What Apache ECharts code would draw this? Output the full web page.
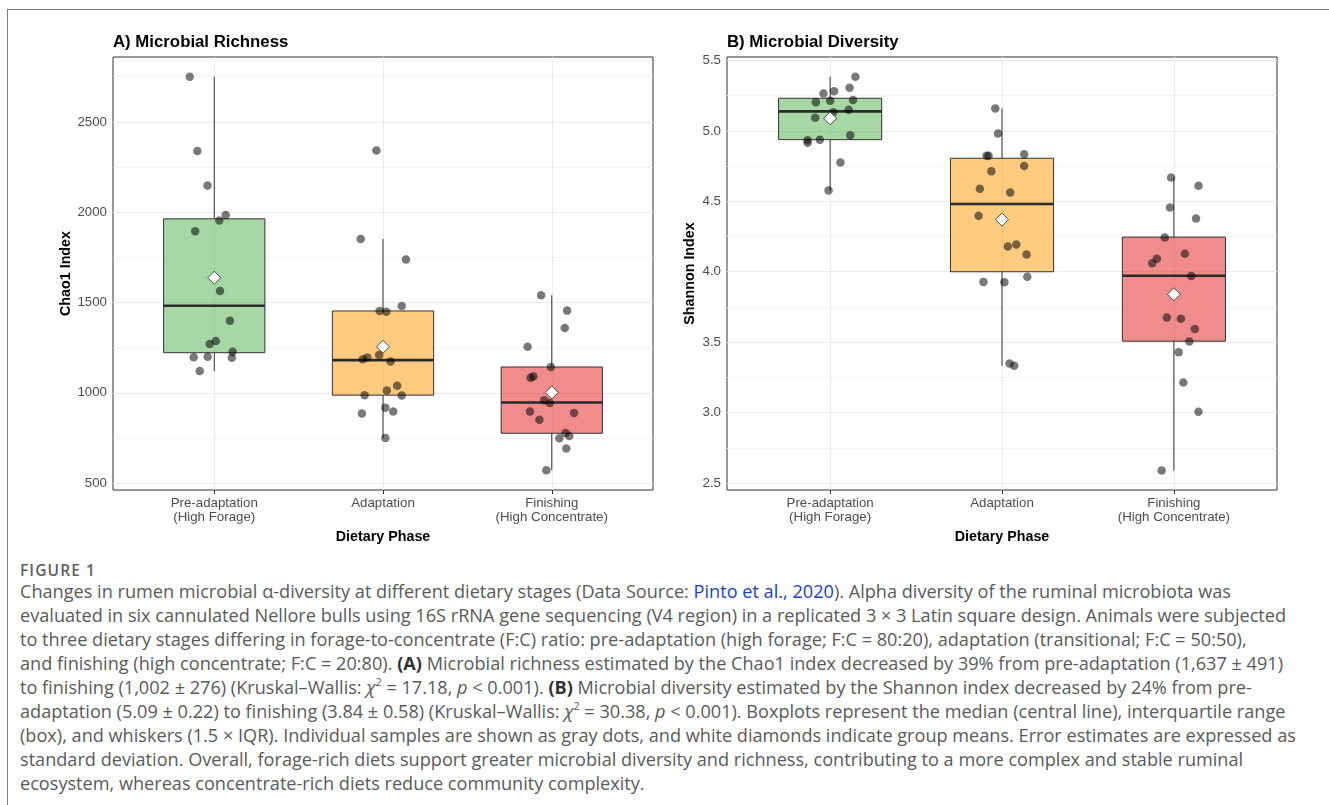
<!DOCTYPE html>
<html>
<head>
<meta charset="utf-8">
<script src="https://cdn.jsdelivr.net/npm/echarts@6/dist/echarts.min.js"></script>
<style>
html,body{margin:0;padding:0;background:#fff;width:1329px;height:805px;overflow:hidden;}
#frame{position:absolute;left:7px;top:9px;width:1330px;height:800px;border-top:1px solid #7d7d7d;border-left:1px solid #7d7d7d;}
#chart{position:absolute;left:0;top:0;width:1329px;height:552px;}
#caption{position:absolute;left:0;top:0;width:1329px;font-family:"Open Sans",sans-serif;color:#5a5a5a;font-size:16px;}
.fig{position:absolute;left:20px;top:561px;font-size:15.5px;font-weight:600;color:#606060;line-height:18px;letter-spacing:1.1px;}
.ln{position:absolute;left:20px;white-space:nowrap;line-height:24px;height:24px;}
.ln a{color:#1f3fbf;text-decoration:none;}
.ln b{color:#333;font-weight:700;}
sup{font-size:0.6em;line-height:0;vertical-align:0.7em;}
</style>
</head>
<body>
<div id="frame"></div>
<div id="chart"></div>
<div id="caption">
<div class="fig">FIGURE 1</div>
<div class="ln" style="top:579px">Changes in rumen microbial α-diversity at different dietary stages (Data Source: <a>Pinto et al., 2020</a>). Alpha diversity of the ruminal microbiota was</div>
<div class="ln" id="refline" style="top:603px">evaluated in six cannulated Nellore bulls using 16S rRNA gene sequencing (V4 region) in a replicated 3 × 3 Latin square design. Animals were subjected</div>
<div class="ln" style="top:627px">to three dietary stages differing in forage-to-concentrate (F:C) ratio: pre-adaptation (high forage; F:C = 80:20), adaptation (transitional; F:C = 50:50),</div>
<div class="ln" style="top:651px">and finishing (high concentrate; F:C = 20:80). <b>(A)</b> Microbial richness estimated by the Chao1 index decreased by 39% from pre-adaptation (1,637 ± 491)</div>
<div class="ln" style="top:675px">to finishing (1,002 ± 276) (Kruskal–Wallis: <i>χ</i><sup>2</sup> = 17.18, <i>p</i> &lt; 0.001). <b>(B)</b> Microbial diversity estimated by the Shannon index decreased by 24% from pre-</div>
<div class="ln" style="top:699px">adaptation (5.09 ± 0.22) to finishing (3.84 ± 0.58) (Kruskal–Wallis: <i>χ</i><sup>2</sup> = 30.38, <i>p</i> &lt; 0.001). Boxplots represent the median (central line), interquartile range</div>
<div class="ln" style="top:723px">(box), and whiskers (1.5 × IQR). Individual samples are shown as gray dots, and white diamonds indicate group means. Error estimates are expressed as</div>
<div class="ln" style="top:747px">standard deviation. Overall, forage-rich diets support greater microbial diversity and richness, contributing to a more complex and stable ruminal</div>
<div class="ln" style="top:771px">ecosystem, whereas concentrate-rich diets reduce community complexity.</div>
</div>
<script>
// ---------------- DATA ----------------
const categories = ['Pre-adaptation\n(High Forage)', 'Adaptation', 'Finishing\n(High Concentrate)'];

const richnessTicks = [500, 1000, 1500, 2000, 2500];
const richnessMinorTicks = [750, 1250, 1750, 2250, 2750];
const diversityTicks = [2.5, 3.0, 3.5, 4.0, 4.5, 5.0, 5.5];
const diversityMinorTicks = [2.75, 3.25, 3.75, 4.25, 4.75, 5.25];

// [lower whisker, Q1, median, Q3, upper whisker]
const richnessBoxPre = [1121, 1222, 1482, 1963, 2750];
const richnessBoxAdapt = [750, 987, 1181, 1453, 1851];
const richnessBoxFinish = [571, 776, 946, 1143, 1540];
const richnessMeans = [1637, 1255, 1002];

const diversityBoxPre = [4.577, 4.938, 5.139, 5.232, 5.385];
const diversityBoxAdapt = [3.333, 4.000, 4.481, 4.806, 5.160];
const diversityBoxFinish = [2.589, 3.507, 3.971, 4.246, 4.670];
const diversityMeans = [5.09, 4.37, 3.84];

// individual samples (values) and horizontal jitter (fraction of category step)
const richnessPre = [2750, 2338, 2148, 1984, 1954, 1894, 1564, 1399, 1287, 1270, 1227, 1197, 1199, 1194, 1121];
const richnessPreJitter = [-0.145, -0.10, -0.04, 0.068, 0.03, -0.113, 0.034, 0.093, 0.009, -0.027, 0.109, -0.122, -0.039, 0.104, -0.086];
const richnessAdapt = [2342, 1851, 1738, 1481, 1453, 1449, 1210, 1195, 1186, 1173, 1039, 1013, 987, 985, 918, 897, 886, 750];
const richnessAdaptJitter = [-0.039, -0.132, 0.136, 0.111, -0.02, 0.02, -0.023, -0.093, -0.12, 0.045, 0.084, 0.023, -0.109, 0.111, 0.014, 0.061, -0.125, 0.014];
const richnessFinish = [1540, 1455, 1359, 1255, 1143, 1091, 1084, 959, 944, 897, 888, 851, 778, 761, 748, 692, 571];
const richnessFinishJitter = [-0.063, 0.091, 0.077, -0.143, -0.005, -0.109, -0.125, -0.045, -0.011, -0.129, 0.132, -0.073, 0.082, 0.104, 0.045, 0.086, -0.032];

const diversityPre = [5.385, 5.306, 5.266, 5.282, 5.203, 5.215, 5.220, 5.132, 5.151, 5.093, 4.969, 4.938, 4.933, 4.916, 4.775, 4.577];
const diversityPreJitter = [0.147, 0.113, -0.039, 0.023, -0.083, 0, 0.133, 0.018, 0.108, -0.087, 0.117, -0.06, -0.131, -0.131, 0.06, -0.009];
const diversityAdapt = [5.160, 4.981, 4.823, 4.823, 4.835, 4.713, 4.751, 4.589, 4.562, 4.397, 4.179, 4.194, 4.122, 3.928, 3.926, 3.964, 3.349, 3.333];
const diversityAdaptJitter = [-0.039, -0.023, -0.09, -0.078, 0.129, -0.062, 0.129, -0.129, 0.048, -0.136, 0.034, 0.083, 0.143, -0.108, 0.014, 0.147, 0.044, 0.071];
const diversityFinish = [4.670, 4.610, 4.457, 4.378, 4.244, 4.127, 4.093, 4.060, 3.969, 3.675, 3.667, 3.593, 3.505, 3.428, 3.213, 3.005, 2.589];
const diversityFinishJitter = [-0.016, 0.143, -0.023, 0.129, -0.053, 0.064, -0.099, -0.126, 0.101, -0.041, 0.041, 0.122, 0.09, 0.028, 0.055, 0.143, -0.071];

// ---------------- STYLE ----------------
const boxColors = ['rgba(77,175,74,0.5)', 'rgba(255,153,0,0.5)', 'rgba(228,26,28,0.5)'];
const FONT = '"Liberation Sans", Arial, sans-serif';
const BOX_WIDTH = 0.6;

function buildPoints(groups, jitters) {
  const out = [];
  groups.forEach((vals, gi) => vals.forEach((v, i) => out.push([gi + jitters[gi][i], v])));
  return out;
}

function gridLineSeries(xi, majorY, minorY) {
  const major = { color: '#ebebeb', width: 1.1, type: 'solid' };
  const minor = { color: '#f3f3f3', width: 0.8, type: 'solid' };
  return {
    type: 'scatter', xAxisIndex: xi, yAxisIndex: xi, data: [], silent: true, z: 1,
    markLine: {
      silent: true, z: 1, symbol: ['none', 'none'], label: { show: false }, animation: false,
      emphasis: { disabled: true },
      data: [].concat(
        minorY.map(v => ({ yAxis: v, lineStyle: minor })),
        majorY.map(v => ({ yAxis: v, lineStyle: major })),
        [0, 1, 2].map(v => ({ xAxis: v, lineStyle: major }))
      )
    }
  };
}

function boxSeries(xi, boxes) {
  return {
    type: 'custom', xAxisIndex: xi, yAxisIndex: xi, z: 2, silent: true,
    data: boxes.map((b, i) => [i].concat(b)),
    encode: { x: 0, y: [1, 2, 3, 4, 5] },
    renderItem: function (params, api) {
      const x = api.value(0);
      const half = api.size([BOX_WIDTH, 0])[0] / 2;
      const lo = api.coord([x, api.value(1)]);
      const q1 = api.coord([x, api.value(2)]);
      const md = api.coord([x, api.value(3)]);
      const q3 = api.coord([x, api.value(4)]);
      const hi = api.coord([x, api.value(5)]);
      const cx = q1[0];
      const lineSt = { stroke: '#333', lineWidth: 1 };
      return {
        type: 'group',
        children: [
          { type: 'line', shape: { x1: cx, y1: hi[1], x2: cx, y2: q3[1] }, style: lineSt },
          { type: 'line', shape: { x1: cx, y1: q1[1], x2: cx, y2: lo[1] }, style: lineSt },
          { type: 'rect', shape: { x: cx - half, y: q3[1], width: 2 * half, height: q1[1] - q3[1] },
            style: { fill: boxColors[params.dataIndex], stroke: '#333', lineWidth: 1 } },
          { type: 'line', shape: { x1: cx - half, y1: md[1], x2: cx + half, y2: md[1] },
            style: { stroke: '#2b2b2b', lineWidth: 2.6 } }
        ]
      };
    }
  };
}

function pointSeries(xi, pts) {
  return {
    type: 'scatter', xAxisIndex: xi, yAxisIndex: xi, z: 3, silent: true,
    data: pts, symbolSize: 8.5,
    itemStyle: { color: 'rgba(0,0,0,0.66)', borderWidth: 0 }
  };
}

function meanSeries(xi, means) {
  return {
    type: 'scatter', xAxisIndex: xi, yAxisIndex: xi, z: 4, silent: true,
    data: means.map((m, i) => [i, m]), symbol: 'diamond', symbolSize: 13,
    itemStyle: { color: '#ffffff', borderColor: '#222', borderWidth: 0.8, opacity: 1 }
  };
}

function xAxisDef(gi) {
  return {
    type: 'value', gridIndex: gi, min: -0.6, max: 2.6,
    splitLine: { show: false }, axisLine: { show: false },
    axisTick: { show: true, customValues: [0, 1, 2], length: 4, lineStyle: { color: '#333', width: 1 } },
    axisLabel: { customValues: [0, 1, 2], formatter: v => categories[Math.round(v)], margin: 6,
      color: '#4d4d4d', fontSize: 13.3, lineHeight: 14.5, fontFamily: FONT },
    name: 'Dietary Phase', nameLocation: 'middle', nameGap: 36,
    nameTextStyle: { fontFamily: FONT, fontWeight: 'bold', fontSize: 14.3, color: '#000' }
  };
}

function yAxisDef(gi, min, max, ticks, name, gap, fmt) {
  return {
    type: 'value', gridIndex: gi, min: min, max: max,
    splitLine: { show: false }, axisLine: { show: false },
    axisTick: { show: true, customValues: ticks, length: 4, lineStyle: { color: '#333', width: 1 } },
    axisLabel: { customValues: ticks, formatter: fmt, margin: 6, color: '#4d4d4d', fontSize: 13.3, fontFamily: FONT },
    name: name, nameLocation: 'middle', nameGap: gap,
    nameTextStyle: { fontFamily: FONT, fontWeight: 'bold', fontSize: 14.3, color: '#000' }
  };
}

const chart = echarts.init(document.getElementById('chart'), null, { renderer: 'canvas' });
chart.setOption({
  animation: false,
  backgroundColor: 'transparent',
  title: [
    { text: 'A) Microbial Richness', left: 113, top: 34, padding: 0, textStyle: { fontFamily: FONT, fontWeight: 'bold', fontSize: 16.8, color: '#000' } },
    { text: 'B) Microbial Diversity', left: 727, top: 34, padding: 0, textStyle: { fontFamily: FONT, fontWeight: 'bold', fontSize: 16.8, color: '#000' } }
  ],
  grid: [
    { left: 113, top: 57, width: 540, height: 433, show: true, borderColor: '#333', borderWidth: 1, backgroundColor: 'transparent', containLabel: false },
    { left: 727, top: 57, width: 550, height: 433, show: true, borderColor: '#333', borderWidth: 1, backgroundColor: 'transparent', containLabel: false }
  ],
  xAxis: [xAxisDef(0), xAxisDef(1)],
  yAxis: [
    yAxisDef(0, 462, 2859, richnessTicks, 'Chao1 Index', 40, v => String(Math.round(v))),
    yAxisDef(1, 2.45, 5.525, diversityTicks, 'Shannon Index', 30, v => v.toFixed(1))
  ],
  series: [
    gridLineSeries(0, richnessTicks, richnessMinorTicks),
    gridLineSeries(1, diversityTicks, diversityMinorTicks),
    boxSeries(0, [richnessBoxPre, richnessBoxAdapt, richnessBoxFinish]),
    boxSeries(1, [diversityBoxPre, diversityBoxAdapt, diversityBoxFinish]),
    pointSeries(0, buildPoints([richnessPre, richnessAdapt, richnessFinish], [richnessPreJitter, richnessAdaptJitter, richnessFinishJitter])),
    pointSeries(1, buildPoints([diversityPre, diversityAdapt, diversityFinish], [diversityPreJitter, diversityAdaptJitter, diversityFinishJitter])),
    meanSeries(0, richnessMeans),
    meanSeries(1, diversityMeans)
  ]
});

// fit caption font so the reference line spans its measured width
(function fitCaption() {
  const ref = document.getElementById('refline');
  const w = ref.getBoundingClientRect().width;
  const target = 1267;
  if (w > 0) {
    const fs = 16 * target / w;
    document.querySelectorAll('.ln').forEach(el => { el.style.fontSize = fs.toFixed(2) + 'px'; });
  }
})();
</script>
</body>
</html>
